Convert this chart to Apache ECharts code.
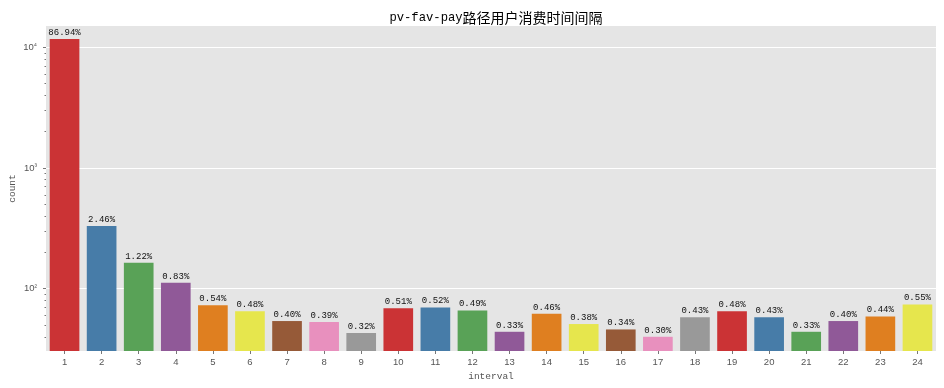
<!DOCTYPE html>
<html>
<head>
<meta charset="utf-8">
<script src="https://cdn.jsdelivr.net/npm/echarts@6/dist/echarts.min.js"></script>
<style>html,body{margin:0;padding:0;background:#fff}#c{width:944px;height:388px}</style>
</head>
<body>
<div id="c"></div>
<script>
const categories = ['1','2','3','4','5','6','7','8','9','10','11','12','13','14','15','16','17','18','19','20','21','22','23','24'];
const counts = [11687, 331, 164, 112, 73, 65, 54, 53, 43, 69, 70, 66, 44, 62, 51, 46, 40, 58, 65, 58, 44, 54, 59, 74];
const palette = ['#CB3335','#477CA8','#59A257','#905998','#DF7F20','#E6E64D','#965A38','#E890BE','#999999'];
const majorTicks = [100, 1000, 10000];
const minorTicks = [40,50,60,70,80,90,200,300,400,500,600,700,800,900,2000,3000,4000,5000,6000,7000,8000,9000];
const yMin = 30.5, yMax = 15000;

const total = counts.reduce((a, b) => a + b, 0);
const sup = {2: '²', 3: '³', 4: '⁴'};
const mono = "'Liberation Mono', 'Noto Sans CJK SC', monospace";
const chart = echarts.init(document.getElementById('c'), null, {renderer: 'canvas'});
chart.setOption({
  animation: false,
  title: {
    text: '{a|pv-fav-pay}{b|路径用户消费时间间隔}',
    left: 491, textAlign: 'center', top: 6,
    textStyle: {
      fontWeight: 'normal',
      rich: {
        a: {fontFamily: mono, fontSize: 12.2, color: '#000', fontWeight: 'normal'},
        b: {fontFamily: "'Noto Sans CJK SC'", fontSize: 14, color: '#000', fontWeight: 'normal'}
      }
    }
  },
  grid: {left: 46, right: 8, top: 26, bottom: 37, show: true, backgroundColor: '#E5E5E5', borderWidth: 0,
         containLabel: false, outerBoundsMode: 'none'},
  xAxis: {
    type: 'category', data: categories,
    name: 'interval', nameLocation: 'middle', nameGap: 21, nameMoveOverlap: false,
    nameTextStyle: {fontFamily: mono, fontSize: 9.5, color: '#555'},
    axisLine: {show: false},
    axisTick: {show: true, alignWithLabel: true, length: 3, lineStyle: {color: '#777'}},
    axisLabel: {fontFamily: "'Liberation Sans'", fontSize: 9.5, color: '#555', margin: 6},
    splitLine: {show: false}
  },
  yAxis: [{
    type: 'log', logBase: 10, min: yMin, max: yMax,
    name: 'count', nameLocation: 'middle', nameGap: 29, nameMoveOverlap: false,
    nameTextStyle: {fontFamily: mono, fontSize: 9.5, color: '#555'},
    axisLine: {show: false},
    axisTick: {show: true, length: 3, customValues: majorTicks, lineStyle: {color: '#777'}},
    axisLabel: {
      customValues: majorTicks, margin: 9,
      formatter: v => '10{s|' + sup[Math.round(Math.log10(v))] + '}',
      fontFamily: "'Liberation Sans'", fontSize: 9.5, color: '#555',
      rich: {s: {fontSize: 7.5, color: '#555', verticalAlign: 'top'}}
    },
    splitLine: {show: true, lineStyle: {color: '#fff', width: 1}},
    minorTick: {show: false}
  }, {
    type: 'log', logBase: 10, min: yMin, max: yMax, position: 'left',
    axisLine: {show: false},
    axisTick: {show: true, length: 1.5, customValues: minorTicks, lineStyle: {color: '#777'}},
    axisLabel: {show: false},
    splitLine: {show: false}
  }],
  series: [{
    type: 'bar', yAxisIndex: 0,
    data: counts.map((v, i) => ({value: v, itemStyle: {color: palette[i % palette.length]}})),
    barCategoryGap: '20%',
    label: {
      show: true, position: 'top', distance: 2,
      formatter: p => (p.value / total * 100).toFixed(2) + '%',
      fontFamily: mono, fontSize: 9, color: '#111'
    }
  }]
});
</script>
</body>
</html>
